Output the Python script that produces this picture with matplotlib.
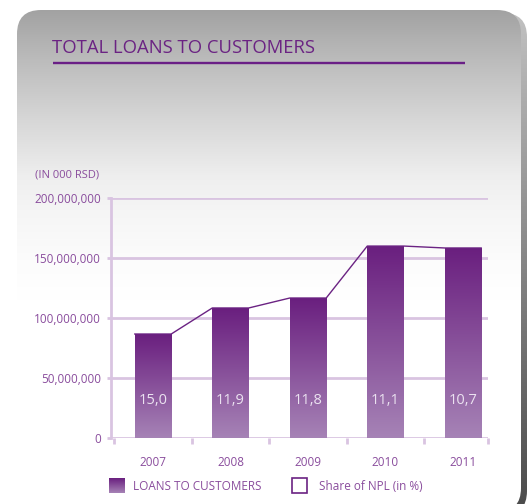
import numpy as np
import matplotlib
matplotlib.use('Agg')
import matplotlib.pyplot as plt
from matplotlib.patches import FancyBboxPatch, Rectangle
from matplotlib.colors import to_rgb

plt.rcParams['font.family'] = ['Open Sans', 'DejaVu Sans']

# === Data ===
years = ['2007', '2008', '2009', '2010', '2011']
loans = [86_400_000, 108_100_000, 116_400_000, 159_700_000, 158_100_000]
npl_share = ['15,0', '11,9', '11,8', '11,1', '10,7']
yticks = [0, 50_000_000, 100_000_000, 150_000_000, 200_000_000]

# === Style ===
W, H = 528, 504
PURPLE = '#6b2383'
TEXT = '#8a4d9d'
GRID = '#d9c4e1'
BAR_TOP = '#6a1f7f'
BAR_BOTTOM = '#a683b6'


def vgradient(top, bottom, n=256):
    t = np.linspace(0, 1, n)[:, None]
    a = np.array(to_rgb(top))
    b = np.array(to_rgb(bottom))
    return (a * (1 - t) + b * t)[:, None, :]  # row 0 = top colour


fig = plt.figure(figsize=(W / 100, H / 100), dpi=100)
fig.patch.set_facecolor('white')

# background layer in pixel coordinates
bg = fig.add_axes([0, 0, 1, 1])
bg.set_xlim(0, W)
bg.set_ylim(H, 0)
bg.axis('off')

# card shadow
shadow = FancyBboxPatch((23, 13), 504, 502, boxstyle='round,pad=0,rounding_size=24',
                        facecolor='none', edgecolor='none')
bg.add_patch(shadow)
sh = bg.imshow(vgradient('#c4c4c4', '#4c4c4c'), extent=[0, W, H, 0], aspect='auto',
               origin='upper', zorder=1)
sh.set_clip_path(shadow)

# card with grey top fading to white
card = FancyBboxPatch((17, 10), 504, 502, boxstyle='round,pad=0,rounding_size=24',
                      facecolor='none', edgecolor='none', zorder=2)
bg.add_patch(card)
rows = np.arange(H)
shade = np.interp(rows, [10, 60, 120, 175, 210, 260, 300],
                  [162, 188, 215, 238, 245, 252, 255]) / 255
card_img = np.repeat(np.repeat(shade[:, None, None], 2, axis=1), 3, axis=2)
ci = bg.imshow(card_img, extent=[0, W, H, 0], aspect='auto', origin='upper', zorder=2)
ci.set_clip_path(card)

# title
bg.text(52, 48, 'TOTAL LOANS TO CUSTOMERS', fontsize=13.3, color=PURPLE,
        va='center', ha='left', zorder=3)
bg.plot([53, 465], [63, 63], color='#6a1f86', lw=1.7, solid_capstyle='butt', zorder=3)
bg.text(35, 175, '(IN 000 RSD)', fontsize=8, color=TEXT, va='center', ha='left', zorder=3)

# legend
bg.imshow(vgradient(BAR_TOP, BAR_BOTTOM), extent=[109, 125, 493, 478], aspect='auto',
          origin='upper', zorder=3)
bg.text(133, 486, 'LOANS TO CUSTOMERS', fontsize=8.5, color=TEXT, va='center', zorder=3)
bg.add_patch(Rectangle((292, 478), 15, 15, facecolor='white', edgecolor=PURPLE,
                       lw=1.2, zorder=3))
bg.text(319, 486, 'Share of NPL (in %)', fontsize=8.5, color=TEXT, va='center', zorder=3)
bg.set_xlim(0, W)
bg.set_ylim(H, 0)

# === Chart ===
ax = fig.add_axes([110.7 / W, (H - 437.7) / H, (488 - 110.7) / W, 240 / H])
ax.set_facecolor('none')
n = len(years)
x = np.arange(n)
bw = 0.47
xmin, xmax = -0.546, 4.323

for v in yticks:
    ax.axhline(v, color=GRID, lw=2, zorder=1)

for i, v in enumerate(loans):
    ax.imshow(vgradient(BAR_TOP, BAR_BOTTOM), extent=[i - bw / 2, i + bw / 2, 0, v],
              aspect='auto', origin='upper', zorder=3)
    ax.text(i, 31_000_000, npl_share[i], color='#ebe2f0', fontsize=10.5,
            ha='center', va='center', zorder=5)

# line running along the bar tops
lx = np.ravel([[i - bw / 2, i + bw / 2] for i in x])
ly = np.repeat(loans, 2)
ax.plot(lx, ly, color=PURPLE, lw=1, zorder=4)

ax.set_xlim(xmin, xmax)
ax.set_ylim(0, 200_000_000)

for side in ['top', 'right', 'bottom']:
    ax.spines[side].set_visible(False)
ax.spines['left'].set_color(GRID)
ax.spines['left'].set_linewidth(2)

ax.set_yticks(yticks, [f'{v:,}' for v in yticks])
ax.tick_params(axis='y', length=3, width=2, color=GRID, labelcolor=TEXT,
               labelsize=8.5, pad=4)

ax.set_xticks(x, years)
ax.tick_params(axis='x', which='major', length=0, pad=13, labelcolor=TEXT, labelsize=8.5)
ax.set_xticks(list(x - 0.5) + [xmax], minor=True)
ax.tick_params(axis='x', which='minor', length=4, width=2, color=GRID)

plt.savefig('out.png', dpi=100)
